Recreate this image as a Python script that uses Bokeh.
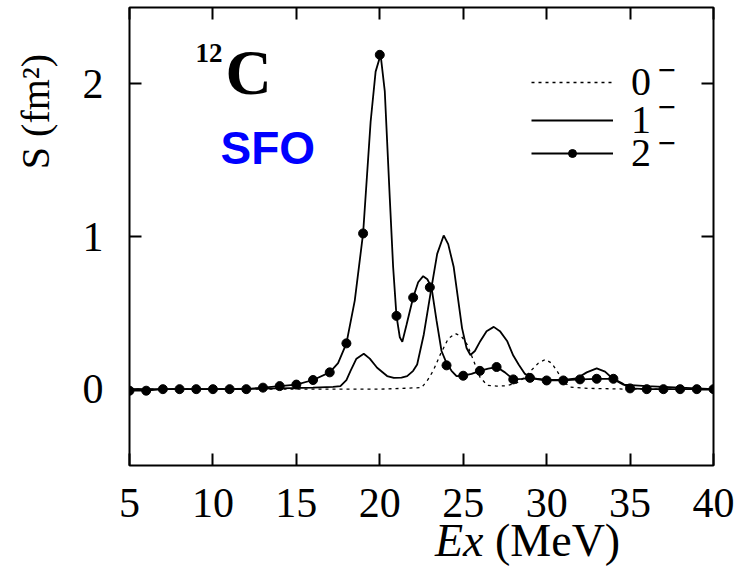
from bokeh.plotting import figure
from bokeh.models import Range1d, LinearAxis, FixedTicker, Label, Legend, LegendItem, Div
from bokeh.layouts import column
from bokeh.embed import file_html
from bokeh.resources import INLINE

# 0- strength (dotted)
x_0m = [5, 10, 15, 20, 22.5, 22.83, 23.2, 23.63, 24.1, 24.53, 24.9, 25.23, 25.63, 26.0, 26.43,
        27.0, 27.6, 28.2, 28.6, 29.03, 29.5, 29.93, 30.3, 30.63, 31.0, 31.43, 32.5, 35, 40]
y_0m = [0.0, 0.0, 0.0, 0.0, 0.01, 0.053, 0.12, 0.228, 0.33, 0.364, 0.345, 0.294, 0.184, 0.08, 0.026,
        0.02, 0.022, 0.04, 0.07, 0.118, 0.17, 0.195, 0.17, 0.118, 0.05, 0.013, 0.005, 0.0, 0.0]

# 1- strength (solid)
x_1m = [5, 10, 14, 16, 17.2, 17.64, 18.0, 18.24, 18.6, 19.04, 19.4, 19.84, 20.44, 20.84, 21.3,
        21.64, 22.0, 22.24, 22.64, 23.1, 23.44, 23.83, 24.1, 24.43, 24.93, 25.2, 25.43, 25.7,
        26.03, 26.4, 26.83, 27.2, 27.63, 28.0, 28.33, 28.7, 29.2, 30.0, 31.0, 31.8, 32.4,
        33.0, 33.5, 34.0, 34.6, 36.0, 38.0, 40.0]
y_1m = [0.0, 0.0, 0.005, 0.01, 0.015, 0.02, 0.06, 0.118, 0.2, 0.232, 0.2, 0.14, 0.086, 0.074, 0.076,
        0.085, 0.12, 0.162, 0.36, 0.667, 0.886, 1.007, 0.95, 0.8, 0.4, 0.27, 0.224, 0.25,
        0.316, 0.38, 0.408, 0.38, 0.316, 0.22, 0.16, 0.1, 0.07, 0.06, 0.06, 0.07, 0.11,
        0.136, 0.115, 0.065, 0.03, 0.02, 0.01, 0.0]

# 2- strength (solid line with dots)
x_2m = [5, 6, 7, 8, 9, 10, 11, 12, 13, 14, 15, 16, 17, 17.5, 18, 18.5, 19, 19.45, 19.75, 20.05,
        20.3, 20.6, 20.8, 21.0, 21.2, 21.35, 21.6, 22.0, 22.3, 22.6, 22.85, 23.1, 23.4, 23.7,
        24.0, 24.3, 24.6, 25.0, 25.5, 26.0, 26.5, 27.0, 27.5, 28.0, 28.5, 29.0, 29.5, 30.0,
        31.0, 32.0, 33.0, 34.0, 34.5, 35.0, 36.0, 37.0, 38.0, 39.0, 40.0]
y_2m = [-0.01, -0.01, 0.0, 0.0, 0.0, 0.0, 0.0, 0.0, 0.01, 0.02, 0.03, 0.06, 0.11, 0.17, 0.30, 0.58,
        1.02, 1.75, 2.08, 2.19, 1.95, 1.25, 0.8, 0.48, 0.34, 0.31, 0.42, 0.60, 0.70, 0.74, 0.72,
        0.667, 0.45, 0.25, 0.17, 0.12, 0.085, 0.088, 0.10, 0.12, 0.135, 0.145, 0.11, 0.064, 0.068,
        0.074, 0.065, 0.057, 0.057, 0.064, 0.068, 0.068, 0.04, 0.005, 0.0, 0.0, 0.0, 0.0, 0.0]

# dot markers on the 2- curve
x_2dots = [5, 6, 7, 8, 9, 10, 11, 12, 13, 14, 15, 16, 17, 18, 19, 20, 21, 22, 23, 24, 25, 26,
           27, 28, 29, 30, 31, 32, 33, 34, 35, 36, 37, 38, 39, 40]
y_2dots = [-0.01, -0.01, 0.0, 0.0, 0.0, 0.0, 0.0, 0.0, 0.01, 0.02, 0.03, 0.06, 0.11, 0.30, 1.02,
           2.19, 0.48, 0.60, 0.667, 0.156, 0.088, 0.12, 0.145, 0.064, 0.074, 0.057, 0.057, 0.064,
           0.068, 0.068, 0.005, 0.0, 0.0, 0.0, 0.0, 0.0]

x_ticks = [5, 10, 15, 20, 25, 30, 35, 40]
y_ticks = [0, 1, 2]
legend_labels = ["0", "1", "2"]

SERIF = "Liberation Serif"
NB = "\u00a0"

p = figure(width=740, height=530, output_backend="svg", toolbar_location=None,
           x_range=Range1d(5, 40), y_range=Range1d(-0.5, 2.5),
           min_border_left=129, min_border_right=27, min_border_top=7, min_border_bottom=65)
p.xgrid.visible = False
p.ygrid.visible = False
p.outline_line_color = "black"
p.outline_line_width = 2
p.background_fill_color = "white"
p.border_fill_color = "white"

def style_axis(ax, ticks, show_labels):
    ax.ticker = FixedTicker(ticks=ticks)
    ax.major_tick_in = 12
    ax.major_tick_out = 0
    ax.major_tick_line_width = 2
    ax.minor_tick_line_color = None
    ax.axis_line_color = None
    if show_labels:
        ax.major_label_text_font = SERIF
        ax.major_label_text_font_size = "42px"
        ax.major_label_text_color = "black"
    else:
        ax.major_label_overrides = {t: "" for t in ticks}
        ax.major_label_standoff = 0

style_axis(p.xaxis[0], x_ticks, True)
p.xaxis[0].major_label_standoff = 23
style_axis(p.yaxis[0], y_ticks, True)
p.yaxis[0].major_label_standoff = 26
# y title, padded with leading no-break spaces to lift it toward the top
p.yaxis[0].axis_label = NB * 25 + "S (fm²)"
p.yaxis[0].axis_label_text_font = SERIF
p.yaxis[0].axis_label_text_font_size = "40px"
p.yaxis[0].axis_label_text_font_style = "normal"
p.yaxis[0].axis_label_text_color = "black"
p.yaxis[0].axis_label_standoff = 22

top = LinearAxis()
style_axis(top, x_ticks, False)
p.add_layout(top, "above")
right = LinearAxis()
style_axis(right, y_ticks, False)
p.add_layout(right, "right")

r0 = p.line(x_0m, y_0m, line_color="black", line_width=1.3, line_dash="3 4")
r1 = p.line(x_1m, y_1m, line_color="black", line_width=1.8)
r2 = p.line(x_2m, y_2m, line_color="black", line_width=1.8)
r2d = p.scatter(x_2dots, y_2dots, size=9, marker="circle", fill_color="black", line_color="black")

legend_renderers = [[r0], [r1], [r2, r2d]]
legend_bottoms = [360, 322, 289]
for lab, rends, yb in zip(legend_labels, legend_renderers, legend_bottoms):
    lg = Legend(items=[LegendItem(label=lab, renderers=rends)],
                location=(402, yb), orientation="vertical",
                glyph_width=82, glyph_height=20, label_standoff=18,
                label_text_font=SERIF, label_text_font_size="40px", label_text_color="black",
                label_height=20, spacing=0, padding=0, margin=0,
                background_fill_alpha=0, border_line_color=None)
    p.add_layout(lg)

# superscript minus signs of the legend labels
for yb in [395, 358, 322]:
    p.add_layout(Label(x=528, y=yb, x_units="screen", y_units="screen", text="−",
                       text_font=SERIF, text_font_size="32px", text_font_style="bold",
                       text_color="black", text_align="left", text_baseline="alphabetic"))

# annotations inside the frame (screen units relative to the frame's lower-left corner)
p.add_layout(Label(x=66, y=413, x_units="screen", y_units="screen", text="12",
                   text_font=SERIF, text_font_size="27px", text_font_style="bold",
                   text_color="black", text_align="left", text_baseline="alphabetic"))
p.add_layout(Label(x=96, y=393, x_units="screen", y_units="screen", text="C",
                   text_font=SERIF, text_font_size="64px", text_font_style="bold",
                   text_color="black", text_align="left", text_baseline="alphabetic"))
p.add_layout(Label(x=91, y=318, x_units="screen", y_units="screen", text="SFO",
                   text_font="Liberation Sans", text_font_size="46px", text_font_style="bold",
                   text_color="#0000ff", text_align="left", text_baseline="alphabetic"))

xtitle = Div(text=("<div style=\"position:relative; left:435px; top:-7px; "
                   "font-family:'Liberation Serif'; font-size:46px; line-height:36px; "
                   "white-space:nowrap; color:black\"><i>Ex</i> (MeV)</div>"),
             width=740, height=36, margin=0)

layout = column(p, xtitle, spacing=0, margin=0)
open("out.html", "w").write(file_html(layout, INLINE))
